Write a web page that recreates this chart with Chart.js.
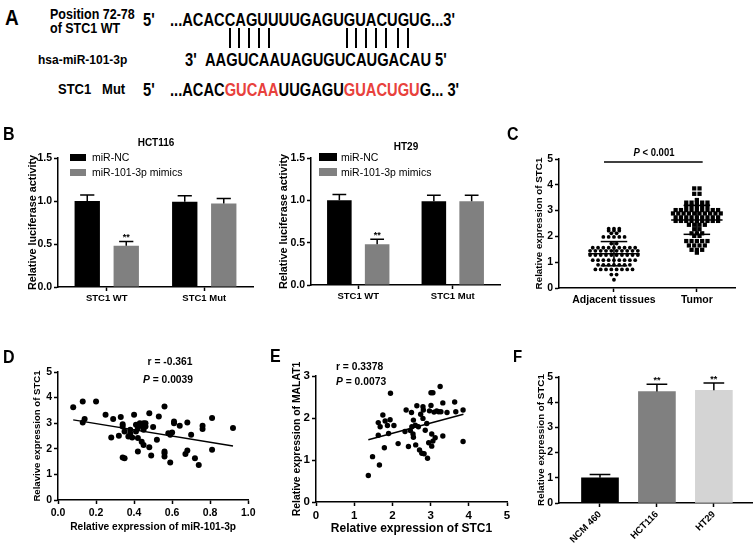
<!DOCTYPE html>
<html>
<head>
<meta charset="utf-8">
<script src="https://cdn.jsdelivr.net/npm/chart.js@4.4.1/dist/chart.umd.min.js"></script>
<style>
  body { margin: 0; width: 753px; height: 546px; position: relative; overflow: hidden; background: #fff;
         font-family: "Liberation Sans", Arial, sans-serif; }
  canvas { position: absolute; }
  .t { position: absolute; white-space: nowrap; color: #000; z-index: 2; transform-origin: left center; }
  .red { color: #e8413c; }
  .pair { position: absolute; width: 2px; height: 20px; top: 28px; background: #000; }
  .sw { position: absolute; z-index: 2; }
</style>
</head>
<body>
<script>
// ---- data ----

// B: luciferase reporter
const luciferaseGroups = ['STC1 WT', 'STC1 Mut'];
const hctNC = [1.00, 0.99];
const hctNCErr = [0.07, 0.07];
const hctMimic = [0.48, 0.97];
const hctMimicErr = [0.05, 0.06];
const hctStars = ['**', ''];
const htNC = [1.00, 0.99];
const htNCErr = [0.07, 0.07];
const htMimic = [0.48, 0.99];
const htMimicErr = [0.06, 0.07];
const htStars = ['**', ''];

// C: tissues
const tissueGroups = ['Adjacent tissues', 'Tumor'];
const adjacentValues = [
  2.30, 2.30, 2.30, 2.22, 2.22, 2.22, 2.12, 2.12,
  1.98, 1.98, 1.98, 1.98, 1.98, 1.72, 1.72,
  1.56, 1.56, 1.56, 1.56, 1.56, 1.56, 1.56, 1.56, 1.56,
  1.44, 1.44, 1.44, 1.44, 1.44, 1.44, 1.44, 1.44, 1.44, 1.44,
  1.28, 1.28, 1.28, 1.28, 1.28, 1.28, 1.28, 1.28, 1.28, 1.28,
  1.08, 1.08, 1.08, 1.08, 1.08, 1.08, 1.08, 1.08, 1.08,
  0.90, 0.90, 0.90, 0.90, 0.90, 0.90, 0.90,
  0.72, 0.72, 0.72, 0.72, 0.72, 0.72, 0.72, 0.72,
  0.52, 0.52, 0.32
];
const tumorValues = [
  3.86, 3.86, 3.65, 3.65, 3.41,
  3.31, 3.31, 3.31, 3.31, 3.31, 3.18, 3.18, 3.18, 3.18, 3.18,
  3.02, 3.02, 3.02, 3.02, 3.02, 3.02, 3.02, 3.02, 3.02,
  2.89, 2.89, 2.89, 2.89, 2.89, 2.89, 2.89, 2.89, 2.89, 2.89,
  2.74, 2.74, 2.74, 2.74, 2.74, 2.74, 2.74, 2.74, 2.74,
  2.60, 2.60, 2.60, 2.60, 2.60, 2.60, 2.60, 2.60, 2.60,
  2.45, 2.45, 2.45, 2.45, 2.28, 2.28, 2.12, 2.12, 2.12, 2.02, 2.02,
  1.82, 1.82, 1.82, 1.82, 1.82, 1.65, 1.65, 1.65, 1.65,
  1.48, 1.48, 1.48, 1.37
];
const tissueMeans = [1.33, 2.64];
const tissueSD = [0.47, 0.56];
const tissueSigY = 4.88;

// D: miR-101-3p vs STC1
const mirD = [0.08, 0.13, 0.20, 0.13, 0.14, 0.25, 0.29, 0.28, 0.33, 0.32, 0.34, 0.34, 0.34, 0.35, 0.35,
  0.37, 0.38, 0.39, 0.40, 0.41, 0.41, 0.42, 0.42, 0.43, 0.44, 0.45, 0.45, 0.45, 0.46, 0.46,
  0.48, 0.48, 0.49, 0.50, 0.52, 0.53, 0.56, 0.56, 0.56, 0.56, 0.58, 0.59, 0.59, 0.60, 0.61,
  0.61, 0.64, 0.67, 0.68, 0.68, 0.70, 0.72, 0.74, 0.76, 0.76, 0.81, 0.81, 0.92, 0.42, 0.44, 0.38];
const stcD = [3.62, 3.85, 3.85, 3.03, 3.16, 3.33, 3.16, 2.44, 3.24, 2.51, 2.87, 2.96, 1.66, 1.63, 2.68,
  2.48, 2.74, 2.44, 3.33, 2.94, 2.68, 1.89, 2.42, 3.00, 2.28, 3.00, 2.15, 2.74, 3.00, 2.87,
  3.39, 2.06, 1.74, 2.85, 2.35, 3.26, 3.65, 1.83, 1.70, 1.89, 2.61, 2.55, 1.46, 2.64, 3.07,
  3.00, 2.90, 1.80, 3.03, 1.93, 2.55, 1.63, 1.37, 2.90, 2.77, 3.20, 1.96, 2.81, 2.82, 2.90, 2.60];
const fitD = { x: [0.08, 0.92], y: [3.13, 2.11] };

// E: STC1 vs MALAT1
const stcE = [1.37, 1.48, 1.66, 1.63, 1.63, 1.68, 1.75, 1.79, 1.81, 1.87, 1.90, 1.94, 1.95, 2.04, 2.15,
  2.33, 2.36, 2.42, 2.47, 2.50, 2.51, 2.54, 2.55, 2.55, 2.60, 2.61, 2.64, 2.68, 2.71, 2.74,
  2.77, 2.80, 2.80, 2.81, 2.83, 2.86, 2.90, 2.92, 2.95, 2.97, 3.01, 3.01, 3.03, 3.03, 3.06,
  3.06, 3.09, 3.12, 3.16, 3.21, 3.25, 3.27, 3.32, 3.32, 3.43, 3.63, 3.66, 3.85, 3.85];
const malatE = [0.63, 1.08, 0.88, 1.59, 1.89, 1.79, 2.07, 1.29, 1.93, 1.82, 1.63, 1.96, 2.59, 1.82, 1.39,
  1.68, 2.19, 1.32, 1.70, 2.13, 1.79, 1.62, 1.54, 1.95, 1.83, 1.36, 2.29, 1.79, 1.24, 2.09,
  1.16, 2.27, 1.99, 2.19, 1.15, 1.71, 1.87, 1.04, 1.41, 2.17, 2.30, 2.60, 1.62, 1.33, 2.60,
  1.45, 2.14, 1.53, 2.17, 2.15, 2.75, 2.15, 2.36, 1.57, 2.13, 2.38, 2.15, 2.19, 1.44];
const fitE = { x: [1.37, 3.86], y: [1.48, 2.09] };

// F: cell lines
const cellLines = ['NCM 460', 'HCT116', 'HT29'];
const cellValues = [1.00, 4.42, 4.47];
const cellErr = [0.13, 0.29, 0.29];
const cellStars = ['', '**', '**'];

// ---- helpers ----
Chart.defaults.font.family = '"Liberation Sans", Arial, sans-serif';
Chart.defaults.font.weight = 'bold';
Chart.defaults.color = '#000';
Chart.defaults.animation = false;
Chart.defaults.responsive = false;
Chart.defaults.plugins.legend.display = false;
Chart.defaults.plugins.tooltip.enabled = false;

function place(left, top, w, h) {
  const c = document.createElement('canvas');
  c.width = w; c.height = h;
  c.style.left = left + 'px'; c.style.top = top + 'px';
  document.body.appendChild(c);
  return c;
}

function put(html, x, y, size, o = {}) {
  const d = document.createElement('div');
  d.className = 't';
  d.innerHTML = html;
  d.style.fontSize = size + 'px';
  d.style.lineHeight = size + 'px';
  d.style.top = (y - size * 0.5) + 'px';
  d.style.left = x + 'px';
  d.style.fontWeight = o.normal ? 'normal' : 'bold';
  const sy = o.sy || 1.1;
  d.style.transform = (o.center ? 'translateX(-50%) ' : '') + 'scaleY(' + sy + ')';
  document.body.appendChild(d);
}

function swatch(x, y, w, h, color) {
  const d = document.createElement('div');
  d.className = 'sw';
  Object.assign(d.style, { left: x + 'px', top: y + 'px', width: w + 'px', height: h + 'px', background: color });
  document.body.appendChild(d);
}

function axis(o) {
  const s = {
    type: o.type || 'linear',
    offset: !!o.offset,
    afterFit: o.pos === 'y' ? sc => { sc.width = o.size; } : sc => { sc.height = o.size; },
    ticks: { font: { size: o.tick, weight: 'bold' }, padding: o.tickPad ?? 2, autoSkip: false,
             maxRotation: o.rot || 0, minRotation: o.rot || 0 },
    grid: { drawOnChartArea: false, tickLength: 4, tickColor: '#000', tickWidth: 1.5, offset: false },
    border: { color: '#000', width: 1.5 },
    title: { display: false }
  };
  if (o.min !== undefined) { s.min = o.min; s.max = o.max; }
  if (o.step) s.ticks.stepSize = o.step;
  if (o.fmt) s.ticks.callback = o.fmt;
  if (o.at) s.afterBuildTicks = sc => { sc.ticks = o.at.map(v => ({ value: v })); };
  if (o.title) {
    s.title = { display: true, text: o.title, font: { size: o.titleSize, weight: 'bold' },
      padding: o.pos === 'y' ? { top: o.titlePad, bottom: 0 } : { top: 0, bottom: o.titlePad } };
  }
  return s;
}

const errorBars = {
  id: 'errorBars',
  afterDatasetsDraw(chart) {
    const ctx = chart.ctx, ys = chart.scales.y;
    chart.data.datasets.forEach((ds, i) => {
      if (!ds.errors) return;
      chart.getDatasetMeta(i).data.forEach((bar, j) => {
        const raw = ds.data[j];
        const v = typeof raw === 'object' ? raw.y : raw;
        const top = ys.getPixelForValue(v + ds.errors[j]);
        const half = bar.width * 0.28;
        ctx.save();
        ctx.strokeStyle = '#000';
        ctx.lineWidth = 1.5;
        ctx.beginPath();
        ctx.moveTo(bar.x, bar.y); ctx.lineTo(bar.x, top);
        ctx.moveTo(bar.x - half, top); ctx.lineTo(bar.x + half, top);
        ctx.stroke();
        if (ds.stars && ds.stars[j]) {
          ctx.fillStyle = '#000';
          ctx.font = 'bold 9px "Liberation Sans", Arial';
          ctx.textAlign = 'center';
          ctx.textBaseline = 'alphabetic';
          ctx.fillText(ds.stars[j], bar.x, top - 1);
        }
        ctx.restore();
      });
    });
  }
};

function swarm(values, center, gap) {
  const rows = new Map();
  values.forEach(v => { if (!rows.has(v)) rows.set(v, 0); rows.set(v, rows.get(v) + 1); });
  const pts = [];
  rows.forEach((n, v) => { for (let i = 0; i < n; i++) pts.push({ x: center + (i - (n - 1) / 2) * gap, y: v }); });
  return pts;
}

function seg(a, b) {
  return { data: [a, b], showLine: true, borderColor: '#000', borderWidth: 1.5, pointRadius: 0, order: 0 };
}

function meanSd(c, m, sd) {
  return [
    seg({ x: c - 0.31, y: m }, { x: c + 0.31, y: m }),
    seg({ x: c - 0.16, y: m + sd }, { x: c + 0.16, y: m + sd }),
    seg({ x: c - 0.16, y: m - sd }, { x: c + 0.16, y: m - sd }),
    seg({ x: c, y: m - sd }, { x: c, y: m + sd })
  ];
}

function pairs(xs, ys) { return xs.map((x, i) => ({ x, y: ys[i] })); }

// ---- B: luciferase ----
function luciferase(canvas, nc, ncErr, mim, mimErr, stars, frame) {
  new Chart(canvas, {
    type: 'bar',
    data: {
      labels: luciferaseGroups,
      datasets: [
        { data: nc, errors: ncErr, backgroundColor: '#000' },
        { data: mim, errors: mimErr, stars, backgroundColor: '#808080' }
      ]
    },
    options: {
      layout: { padding: { top: frame.top, right: frame.right, left: 0, bottom: 0 } },
      datasets: { bar: { categoryPercentage: 0.8, barPercentage: 0.65 } },
      scales: {
        x: axis({ type: 'category', pos: 'x', size: frame.xh, tick: 9.5, offset: true, tickPad: 2 }),
        y: axis({ pos: 'y', size: frame.yw, min: 0, max: 1.5, step: 0.5, tick: 10.5, fmt: v => v.toFixed(1),
                  title: 'Relative luciferase activity', titleSize: 10.8, titlePad: frame.titlePad })
      }
    },
    plugins: [errorBars]
  });
}
luciferase(place(0, 130, 258, 180), hctNC, hctNCErr, hctMimic, hctMimicErr, hctStars,
  { top: 28, right: 5, xh: 23, yw: 58, titlePad: 26.4 });
luciferase(place(255, 130, 250, 180), htNC, htNCErr, htMimic, htMimicErr, htStars,
  { top: 28, right: 5, xh: 25, yw: 56, titlePad: 22.9 });

// ---- C: tissues ----
new Chart(place(510, 130, 243, 180), {
  type: 'scatter',
  data: {
    datasets: [
      ...meanSd(1, tissueMeans[0], tissueSD[0]),
      ...meanSd(2, tissueMeans[1], tissueSD[1]),
      seg({ x: 0.88, y: tissueSigY }, { x: 2.07, y: tissueSigY }),
      { data: swarm(adjacentValues, 1, 0.064), pointRadius: 1.9, backgroundColor: '#000', borderWidth: 0, order: 2 },
      { data: swarm(tumorValues, 2, 0.064), pointStyle: 'rect', pointRadius: 3.0, backgroundColor: '#000', borderWidth: 0, order: 2 }
    ]
  },
  options: {
    layout: { padding: { top: 29, right: 18, left: 0, bottom: 0 } },
    scales: {
      x: axis({ pos: 'x', size: 22, min: 0.337, max: 2.46, at: [1, 2], tick: 10.5, fmt: v => tissueGroups[v - 1] }),
      y: axis({ pos: 'y', size: 49, min: 0, max: 5, step: 1, tick: 10.5,
                title: 'Relative expression of STC1', titleSize: 9.8, titlePad: 23.6 })
    }
  }
});

// ---- D: miR-101-3p vs STC1 ----
new Chart(place(0, 340, 258, 206), {
  type: 'scatter',
  data: {
    datasets: [
      seg({ x: fitD.x[0], y: fitD.y[0] }, { x: fitD.x[1], y: fitD.y[1] }),
      { data: pairs(mirD, stcD), pointRadius: 3, backgroundColor: '#000', borderWidth: 0, order: 2 }
    ]
  },
  options: {
    layout: { padding: { top: 32, right: 9, left: 0, bottom: 0 } },
    scales: {
      x: axis({ pos: 'x', size: 46, min: 0, max: 1, step: 0.2, tick: 10.5, tickPad: 2.5, fmt: v => v.toFixed(1),
                title: 'Relative expression of miR-101-3p', titleSize: 10.2, titlePad: 12.8 }),
      y: axis({ pos: 'y', size: 58, min: 0, max: 5, step: 1, tick: 10.5,
                title: 'Relavive expression of STC1', titleSize: 9.6, titlePad: 32 })
    }
  }
});

// ---- E: STC1 vs MALAT1 ----
new Chart(place(258, 340, 255, 206), {
  type: 'scatter',
  data: {
    datasets: [
      seg({ x: fitE.x[0], y: fitE.y[0] }, { x: fitE.x[1], y: fitE.y[1] }),
      { data: pairs(stcE, malatE), pointRadius: 2.7, backgroundColor: '#000', borderWidth: 0, order: 2 }
    ]
  },
  options: {
    layout: { padding: { top: 36, right: 6, left: 0, bottom: 0 } },
    scales: {
      x: axis({ pos: 'x', size: 44, min: 0, max: 5, step: 1, tick: 11.5, tickPad: 2.5,
                title: 'Relative expression of STC1', titleSize: 12, titlePad: 9.8 }),
      y: axis({ pos: 'y', size: 58, min: 0, max: 3, step: 1, tick: 11.5,
                title: 'Relative expression of MALAT1', titleSize: 10.4, titlePad: 32.7 })
    }
  }
});

// ---- F: cell lines ----
new Chart(place(510, 340, 243, 206), {
  type: 'bar',
  data: {
    datasets: [{
      data: cellValues.map((v, i) => ({ x: i, y: v })),
      errors: cellErr, stars: cellStars,
      backgroundColor: ['#000', '#808080', '#d4d4d4'],
      barThickness: 37
    }]
  },
  options: {
    layout: { padding: { top: 37, right: 1, left: 0, bottom: 0 } },
    scales: {
      x: axis({ pos: 'x', size: 43, min: -0.72, max: 2.67, at: [0, 1, 2], tick: 9.5, rot: 45, fmt: v => cellLines[v] }),
      y: axis({ pos: 'y', size: 49, min: 0, max: 5, step: 1, tick: 10.5,
                title: 'Relative expression of STC1', titleSize: 9.8, titlePad: 25.5 })
    }
  },
  plugins: [errorBars]
});

// ---- text: panel A and annotations ----
put('A', 5, 17.5, 19, { sy: 1.15 });
put('Position 72-78', 50, 15.5, 12.5);
put('of STC1 WT', 50, 29, 12.5);
put('hsa-miR-101-3p', 38, 60, 12);
put('STC1&nbsp;&nbsp;&nbsp;Mut', 58, 89, 13);
put("5'", 143, 20.5, 14.7, { sy: 1.2 });
put("...ACACCAGUUUUGAGUGUACUGUG...3'", 170, 20.5, 14.7, { sy: 1.2 });
put("3'", 185, 60, 14.7, { sy: 1.2 });
put("AAGUCAAUAGUGUCAUGACAU 5'", 205, 60, 14.7, { sy: 1.2 });
put("5'", 143, 90, 14.7, { sy: 1.2 });
put("...ACAC<span class=red>GUCAA</span>UUGAGU<span class=red>GUACUGU</span>G... 3'", 170, 90, 14.7, { sy: 1.2 });
[230, 239, 249, 259, 269, 347, 356, 366, 376, 386, 398, 408].forEach(x => {
  const d = document.createElement('div');
  d.className = 'pair';
  d.style.left = (x - 1) + 'px';
  document.body.appendChild(d);
});

put('B', 3, 134, 16, { sy: 1.15 });
put('HCT116', 156, 143, 10, { center: true, sy: 1.15 });
swatch(70, 154, 16, 7, '#000');
put('miR-NC', 92, 157, 10.5, { normal: true });
swatch(70, 169, 16, 7, '#808080');
put('miR-101-3p mimics', 92, 172, 10.5, { normal: true });

put('HT29', 406, 147, 10, { center: true, sy: 1.15 });
swatch(319, 153, 18, 8, '#000');
put('miR-NC', 341, 157, 10.5, { normal: true });
swatch(319, 168, 18, 8, '#808080');
put('miR-101-3p mimics', 341, 172, 10.5, { normal: true });

put('C', 507, 134, 16, { sy: 1.15 });
put('<i>P</i> &lt; 0.001', 654, 152, 9.5, { center: true, sy: 1.2 });

put('D', 3, 357, 16, { sy: 1.15 });
put('r = -0.361', 170, 362, 10.3, { center: true });
put('<i>P</i> = 0.0039', 168, 380, 10.3, { center: true });

put('E', 270, 356, 16, { sy: 1.15 });
put('r = 0.3378', 336, 367, 10.3);
put('<i>P</i> = 0.0073', 336, 382, 10.3);

put('F', 513, 355, 15, { sy: 1.15 });
</script>
</body>
</html>
